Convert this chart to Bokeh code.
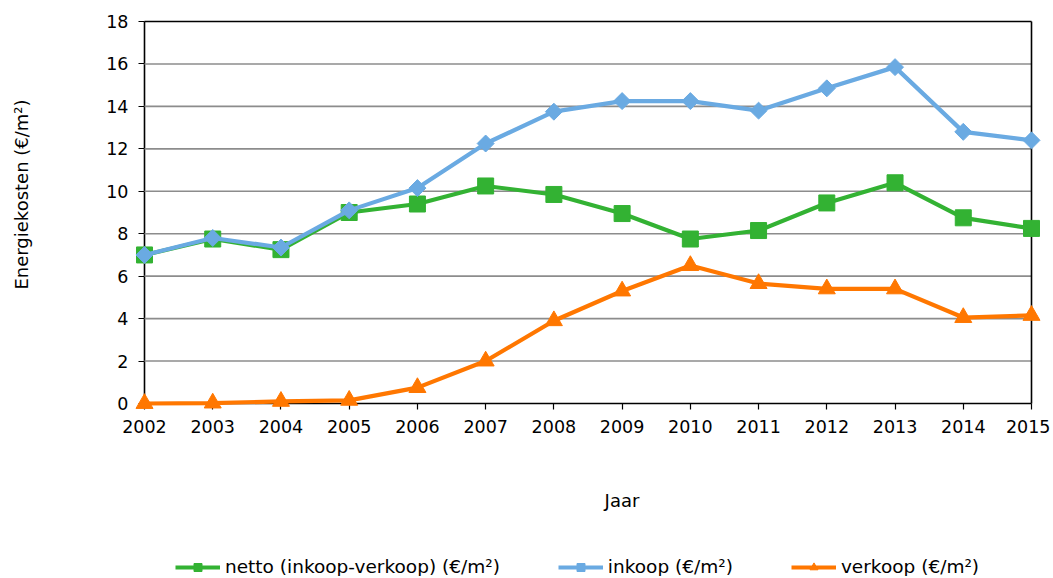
from bokeh.plotting import figure
from bokeh.models import (ColumnDataSource, Legend, LegendItem, FixedTicker,
                          Range1d, LinearAxis)
from bokeh.embed import file_html
from bokeh.resources import INLINE

years = [2002, 2003, 2004, 2005, 2006, 2007, 2008, 2009, 2010, 2011, 2012, 2013, 2014, 2015]
netto = [7.0, 7.75, 7.25, 9.0, 9.4, 10.25, 9.85, 8.95, 7.75, 8.15, 9.45, 10.4, 8.75, 8.25]
inkoop = [7.0, 7.8, 7.35, 9.1, 10.15, 12.25, 13.75, 14.25, 14.25, 13.8, 14.85, 15.85, 12.8, 12.4]
verkoop = [0.0, 0.02, 0.1, 0.15, 0.75, 2.0, 3.9, 5.3, 6.5, 5.65, 5.4, 5.4, 4.05, 4.15]

labels = ["netto (inkoop-verkoop) (€/m²)", "inkoop (€/m²)", "verkoop (€/m²)"]
y_ticks = [0, 2, 4, 6, 8, 10, 12, 14, 16, 18]
x_title = "Jaar"
y_title = "Energiekosten (€/m²)"

FONT = "DejaVu Sans"
GREEN = "#33B233"
BLUE = "#6AAAE2"
ORANGE = "#FF7700"

# canvas and plot-area placement (pixels)
W, H = 1050, 576
PL, PR, PT, PB = 144, 1031, 21, 403

x0, x1 = years[0], years[-1]
y0, y1 = y_ticks[0], y_ticks[-1]
sx = (PR - PL) / (x1 - x0)
sy = (PB - PT) / (y1 - y0)
xr = Range1d(x0 - PL / sx, x1 + (W - PR) / sx)
yr = Range1d(y0 - (H - PB) / sy, y1 + PT / sy)

src = ColumnDataSource(dict(x=years, netto=netto, inkoop=inkoop, verkoop=verkoop))

p = figure(width=W, height=H, output_backend="svg", toolbar_location=None,
           x_range=xr, y_range=yr, x_axis_type=None, y_axis_type=None,
           min_border=0)
p.background_fill_color = "white"
p.border_fill_color = "white"
p.outline_line_color = None
p.grid.visible = False

# horizontal grid lines (between axis and frame top)
gy = y_ticks[1:-1]
p.segment(x0=[x0] * len(gy), y0=gy, x1=[x1] * len(gy), y1=gy,
          line_color="#8C8C8C", line_width=1.6)
# frame top and right
p.segment(x0=[x0, x1], y0=[y1, y0], x1=[x1, x1], y1=[y1, y1],
          line_color="black", line_width=1.6)

r1l = p.line("x", "netto", source=src, line_color=GREEN, line_width=4.2)
r1m = p.scatter("x", "netto", source=src, marker="square", size=16,
                fill_color=GREEN, line_color=GREEN)
r2l = p.line("x", "inkoop", source=src, line_color=BLUE, line_width=4.2)
r2m = p.scatter("x", "inkoop", source=src, marker="square", angle=0.7854, size=12,
                fill_color=BLUE, line_color=BLUE)
r3l = p.line("x", "verkoop", source=src, line_color=ORANGE, line_width=4.2)
r3m = p.scatter("x", "verkoop", source=src, marker="triangle", size=17,
                fill_color=ORANGE, line_color=ORANGE)

xaxis = LinearAxis(fixed_location=y0, bounds=(x0, x1),
                   ticker=FixedTicker(ticks=years))
yaxis = LinearAxis(fixed_location=x0, bounds=(y0, y1),
                   ticker=FixedTicker(ticks=y_ticks))
for ax in (xaxis, yaxis):
    ax.level = "underlay"
    ax.axis_line_color = "black"
    ax.axis_line_width = 1.6
    ax.major_tick_line_color = "black"
    ax.major_tick_line_width = 1.2
    ax.major_tick_out = 6
    ax.major_tick_in = 0
    ax.minor_tick_line_color = None
    ax.major_label_text_font = FONT
    ax.major_label_text_font_size = "17.5px"
    ax.major_label_text_color = "black"
xaxis.major_label_standoff = 10
yaxis.major_label_standoff = 10
p.add_layout(xaxis, "below")
p.add_layout(yaxis, "left")

# label-only axes, to place the axis titles where the reference has them
xlab = LinearAxis(fixed_location=y0, bounds=(2003.0, x1),
                  ticker=FixedTicker(ticks=[]), axis_label=x_title)
ylab = LinearAxis(fixed_location=x0, bounds=(1.7, y1),
                  ticker=FixedTicker(ticks=[]), axis_label=y_title)
for ax in (xlab, ylab):
    ax.axis_line_color = None
    ax.major_tick_line_color = None
    ax.minor_tick_line_color = None
    ax.major_tick_out = 0
    ax.major_tick_in = 0
    ax.axis_label_text_font = FONT
    ax.axis_label_text_font_size = "18px"
    ax.axis_label_text_font_style = "normal"
    ax.axis_label_text_color = "black"
xlab.axis_label_standoff = 86
ylab.axis_label_standoff = 113
p.add_layout(xlab, "below")
p.add_layout(ylab, "left")

legend = Legend(items=[
    LegendItem(label=labels[0], renderers=[r1l, r1m]),
    LegendItem(label=labels[1], renderers=[r2l, r2m]),
    LegendItem(label=labels[2], renderers=[r3l, r3m]),
], orientation="horizontal", location=(175, -1))
legend.label_text_font = FONT
legend.label_text_font_size = "18.5px"
legend.label_text_color = "black"
legend.glyph_width = 45
legend.glyph_height = 20
legend.label_standoff = 5
legend.spacing = 58
legend.border_line_color = None
legend.background_fill_alpha = 0
legend.margin = 0
legend.padding = 0
p.add_layout(legend)

open("out.html", "w").write(file_html(p, INLINE))
